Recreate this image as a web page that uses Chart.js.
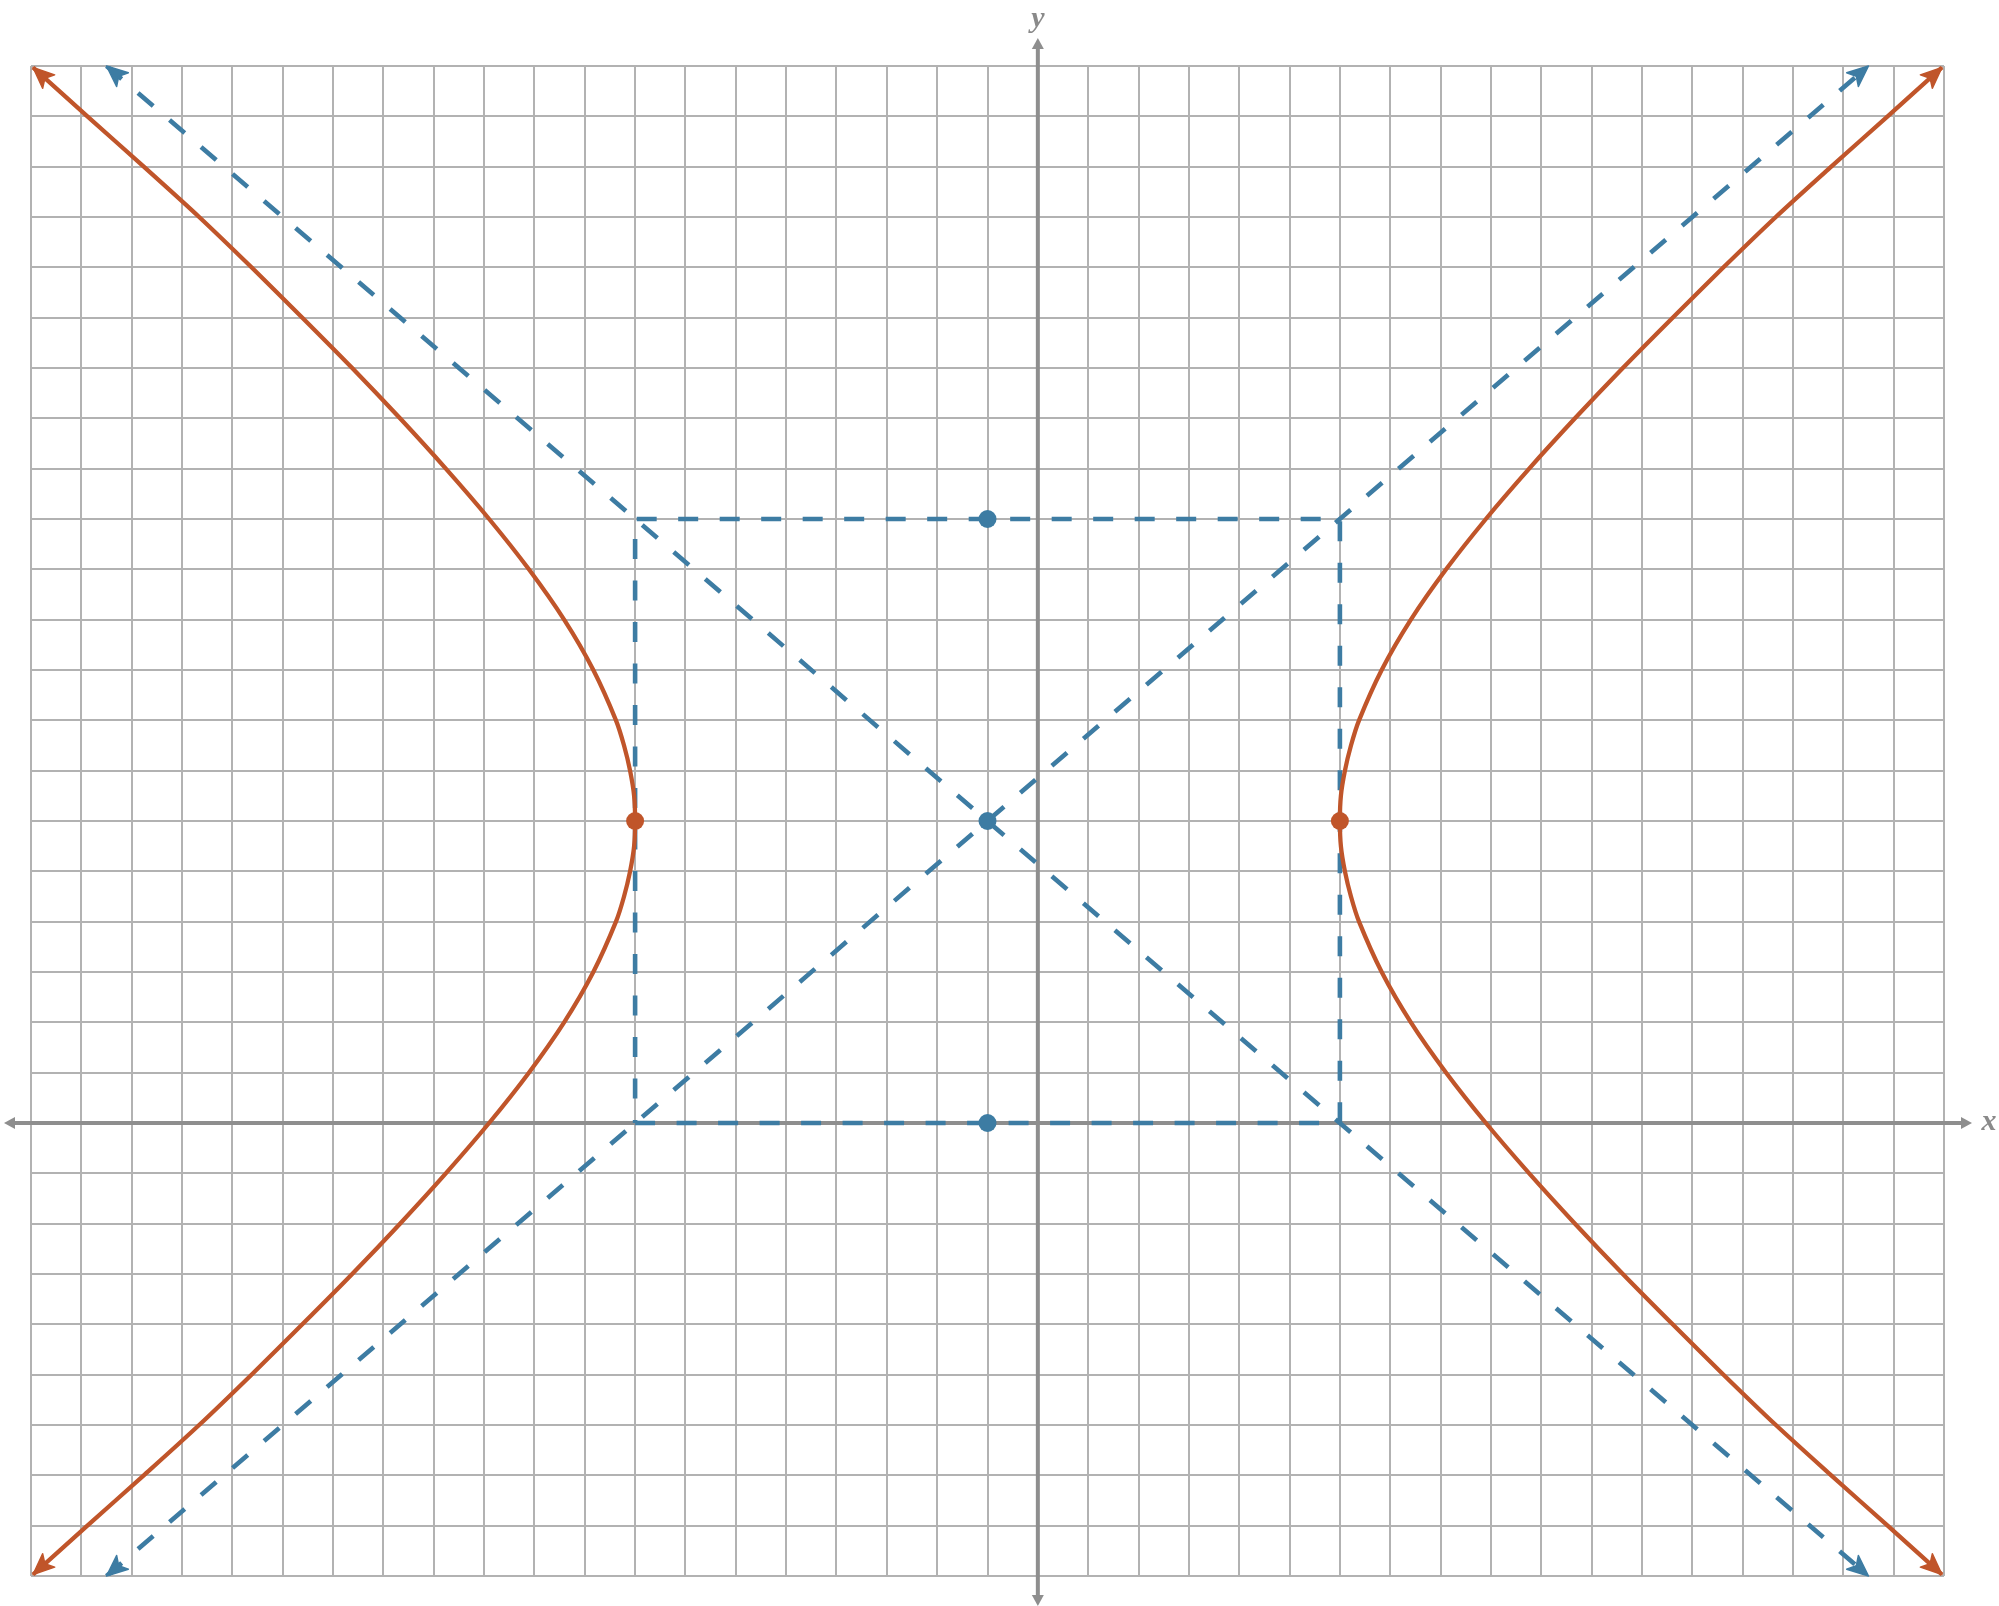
<!DOCTYPE html>
<html>
<head>
<meta charset="utf-8">
<script src="https://cdn.jsdelivr.net/npm/chart.js@4.4.1/dist/chart.umd.min.js"></script>
<style>
  html, body { margin: 0; padding: 0; background: #ffffff; }
  #wrap { width: 1999px; height: 1606px; }
</style>
</head>
<body>
<div id="wrap"><canvas id="c" width="1999" height="1606"></canvas></div>
<script>
// ---- axis bounds (grid extent) ----
const xBounds = [-20, 18];
const yBounds = [-9, 21];

// ---- hyperbola branches ----
const branchY      = [-8.97, -8, -7, -6, -5, -4, -3, -2, -1, 0, 1, 2, 3, 4, 4.5, 5, 5.5, 6, 6.5, 7, 7.5, 8, 9, 10, 11, 12, 13, 14, 15, 16, 17, 18, 19, 20, 20.97];
const rightBranchX = [17.96, 16.88, 15.76, 14.66, 13.62, 12.61, 11.62, 10.67, 9.76, 8.90, 8.11, 7.41, 6.83, 6.38, 6.22, 6.10, 6.02, 6.00, 6.02, 6.10, 6.22, 6.38, 6.83, 7.41, 8.11, 8.90, 9.76, 10.67, 11.62, 12.61, 13.62, 14.66, 15.76, 16.88, 17.96];
const leftBranchX  = [-19.96, -18.88, -17.76, -16.66, -15.62, -14.61, -13.62, -12.67, -11.76, -10.90, -10.11, -9.41, -8.83, -8.38, -8.22, -8.10, -8.02, -8.00, -8.02, -8.10, -8.22, -8.38, -8.83, -9.41, -10.11, -10.90, -11.76, -12.67, -13.62, -14.61, -15.62, -16.66, -17.76, -18.88, -19.96];

// ---- asymptotes ----
const asymDownX = [-18.5, 16.5];
const asymDownY = [21, -9];
const asymUpX   = [-18.5, 16.5];
const asymUpY   = [-9, 21];

// ---- fundamental rectangle ----
const rectX = [-8, 6, 6, -8, -8];
const rectY = [0, 0, 12, 12, 0];

// ---- marked points ----
const vertexX = [-8, 6];
const vertexY = [6, 6];
const bluePtX = [-1, -1, -1];
const bluePtY = [6, 12, 0];

const ORANGE = '#c0552a';
const BLUE = '#3d7ca3';
const GRID = '#b2b2b2';
const AXIS = '#8e8e8e';

const pairs = (xs, ys) => xs.map((v, i) => ({ x: v, y: ys[i] }));

function arrowHead(ctx, tx, ty, fx, fy, len, half, notch) {
  const dx = tx - fx, dy = ty - fy, d = Math.hypot(dx, dy) || 1;
  const ux = dx / d, uy = dy / d, nx = -uy, ny = ux;
  ctx.beginPath();
  ctx.moveTo(tx, ty);
  ctx.lineTo(tx - ux * len + nx * half, ty - uy * len + ny * half);
  ctx.lineTo(tx - ux * (len - notch), ty - uy * (len - notch));
  ctx.lineTo(tx - ux * len - nx * half, ty - uy * len - ny * half);
  ctx.closePath();
  ctx.fill();
}

const decor = {
  id: 'decor',
  beforeDatasetsDraw(chart) {
    const { ctx, chartArea: a, scales: { x, y } } = chart;
    const x0 = x.getPixelForValue(0), y0 = y.getPixelForValue(0);
    ctx.save();
    ctx.strokeStyle = AXIS; ctx.fillStyle = AXIS; ctx.lineWidth = 4;
    const xl = a.left - 27, xr = a.right + 28;
    const yt = a.top - 28, yb = a.bottom + 30;
    ctx.beginPath();
    ctx.moveTo(xl + 8, y0); ctx.lineTo(xr - 8, y0);
    ctx.moveTo(x0, yt + 8); ctx.lineTo(x0, yb - 8);
    ctx.stroke();
    arrowHead(ctx, xr, y0, xl, y0, 11, 6, 0);
    arrowHead(ctx, xl, y0, xr, y0, 11, 6, 0);
    arrowHead(ctx, x0, yt, x0, yb, 11, 6, 0);
    arrowHead(ctx, x0, yb, x0, yt, 11, 6, 0);
    ctx.restore();
  },
  afterDatasetsDraw(chart) {
    const { ctx, chartArea: a, scales: { x, y } } = chart;
    ctx.save();
    chart.data.datasets.forEach((ds, i) => {
      if (!ds.arrowEnds) return;
      const els = chart.getDatasetMeta(i).data;
      const n = els.length;
      ctx.fillStyle = ds.borderColor;
      ctx.strokeStyle = ds.borderColor;
      ctx.lineWidth = 1.5;
      ctx.lineJoin = 'round';
      arrowHead(ctx, els[0].x, els[0].y, els[1].x, els[1].y, 21, 9, 5);
      ctx.stroke();
      arrowHead(ctx, els[n - 1].x, els[n - 1].y, els[n - 2].x, els[n - 2].y, 21, 9, 5);
      ctx.stroke();
    });
    const x0 = x.getPixelForValue(0), y0 = y.getPixelForValue(0);
    ctx.fillStyle = '#8a8a8a';
    ctx.font = 'bold italic 30px "Liberation Serif", "DejaVu Serif", serif';
    ctx.textAlign = 'center';
    ctx.textBaseline = 'alphabetic';
    ctx.fillText('y', x0, a.top - 39);
    ctx.fillText('x', a.right + 45, y0 + 7);
    ctx.restore();
  }
};

const axisOpts = (b) => ({
  type: 'linear',
  min: b[0],
  max: b[1],
  ticks: { display: false, stepSize: 1 },
  grid: { color: GRID, lineWidth: 2, drawTicks: false, tickLength: 0 },
  border: { display: false },
  title: { display: false }
});

new Chart(document.getElementById('c'), {
  type: 'scatter',
  data: {
    datasets: [
      { label: 'vertices', data: pairs(vertexX, vertexY), showLine: false,
        pointRadius: 9, pointBackgroundColor: ORANGE, pointBorderColor: ORANGE, pointBorderWidth: 0 },
      { label: 'center', data: pairs(bluePtX, bluePtY), showLine: false,
        pointRadius: 9, pointBackgroundColor: BLUE, pointBorderColor: BLUE, pointBorderWidth: 0 },
      { label: 'right branch', data: pairs(rightBranchX, branchY), showLine: true, arrowEnds: true,
        borderColor: ORANGE, borderWidth: 4.3, pointRadius: 0, tension: 0.3 },
      { label: 'left branch', data: pairs(leftBranchX, branchY), showLine: true, arrowEnds: true,
        borderColor: ORANGE, borderWidth: 4.3, pointRadius: 0, tension: 0.3 },
      { label: 'asymptote 1', data: pairs(asymDownX, asymDownY), showLine: true, arrowEnds: true,
        borderColor: BLUE, borderWidth: 4.6, borderDash: [20, 21.5], pointRadius: 0, tension: 0 },
      { label: 'asymptote 2', data: pairs(asymUpX, asymUpY), showLine: true, arrowEnds: true,
        borderColor: BLUE, borderWidth: 4.6, borderDash: [20, 21.5], pointRadius: 0, tension: 0 },
      { label: 'rectangle', data: pairs(rectX, rectY), showLine: true,
        borderColor: BLUE, borderWidth: 4.6, borderDash: [20, 21.5], pointRadius: 0, tension: 0 }
    ]
  },
  options: {
    responsive: false,
    maintainAspectRatio: false,
    devicePixelRatio: 1,
    animation: false,
    events: [],
    layout: { padding: { left: 31, right: 55, top: 66, bottom: 30 } },
    plugins: { legend: { display: false }, tooltip: { enabled: false }, title: { display: false } },
    scales: { x: axisOpts(xBounds), y: axisOpts(yBounds) }
  },
  plugins: [decor]
});
</script>
</body>
</html>
